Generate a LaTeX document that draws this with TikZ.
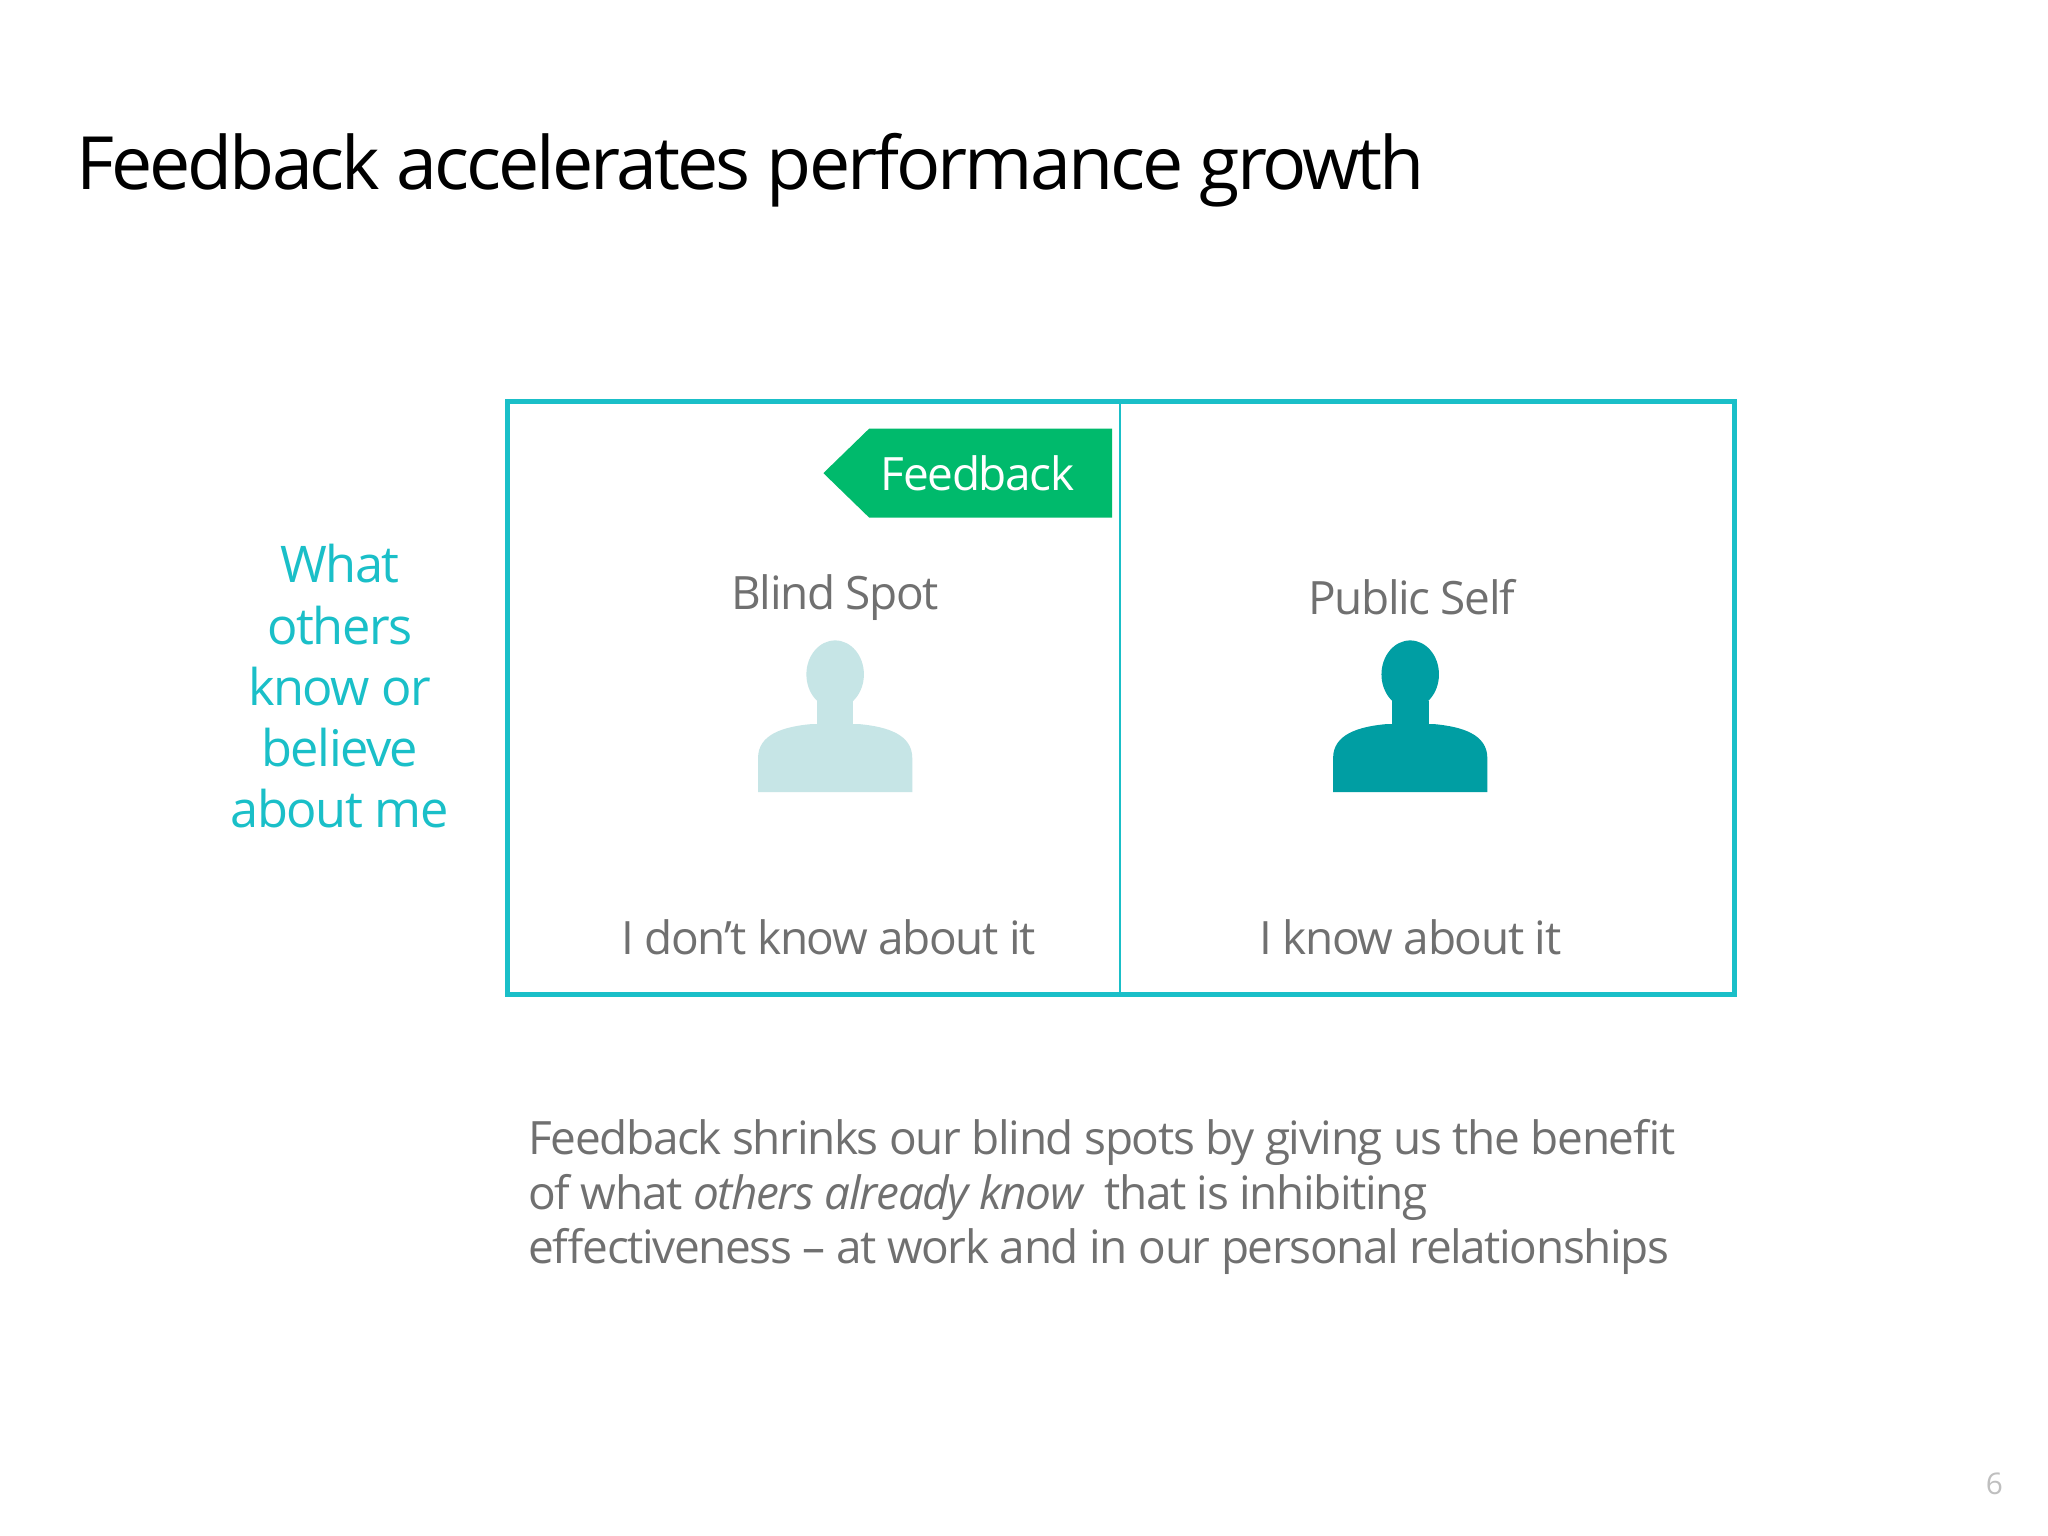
\documentclass[tikz,border=0pt]{standalone}
\usepackage{fontspec}
\setmainfont[LetterSpace=-3]{Open Sans}
\definecolor{cy}{HTML}{1ABFC8}
\definecolor{gr}{HTML}{00BA6C}
\definecolor{tx}{HTML}{707070}
\definecolor{lp}{HTML}{C6E5E6}
\definecolor{dp}{HTML}{009EA3}
\begin{document}
\begin{tikzpicture}[x=0.02cm,y=-0.02cm,
  lbl/.style={text=tx,font=\fontsize{20}{24}\selectfont,inner sep=0},
  person/.pic={
    \fill (0,-32) ellipse (22 and 26);
    \fill (-14,-12) rectangle (14,20);
    \fill (-59,58) -- (-59,32) .. controls (-59,14) and (-40,8) .. (-18,6) -- (18,6) .. controls (40,8) and (59,14) .. (59,32) -- (59,58) -- cycle;
  }]
\useasboundingbox (0,0) rectangle (1567,1175);
\fill[white] (0,0) rectangle (1567,1175);
\node[anchor=base west,inner sep=0,font=\fontsize{32}{38}\selectfont\addfontfeatures{LetterSpace=-4}] (title) at (58,145) {Feedback accelerates performance growth};
\draw[cy,line width=4*0.567pt] (388,307) rectangle (1327,761);
\draw[cy,line width=2*0.567pt] (857,307) coordinate (dt) -- (857,761) coordinate (db);
\fill[gr] (630,362) -- (665,328) -- (851,328) -- (851,396) -- (665,396) -- cycle;
\node[text=white,font=\fontsize{20}{24}\selectfont] (fb) at (748,362) {Feedback};
\node[lbl] (bs) at (639,457) {Blind Spot};
\node[lbl] (ps) at (1080,457) {Public Self};
\pic[lp] at (639,548) {person};
\pic[dp] at (1079,548) {person};
\node[lbl] (dk) at (634,717) {I don’t know about it};
\node[lbl] (ik) at (1079,717) {I know about it};
\node[text=cy,align=center,font=\fontsize{22}{26.6}\selectfont,inner sep=0] (left) at (260,525) {What\\others\\know or\\believe\\about me};
\node[anchor=north west,text=tx,align=left,inner sep=0,font=\fontsize{20}{23.8}\selectfont] (bottom) at (404,856) {Feedback shrinks our blind spots by giving us the benefit\\of what \textit{others already know}\ \ that is inhibiting\\effectiveness – at work and in our personal relationships};
\node[text=black!25,font=\fontsize{13}{15}\selectfont] (pg) at (1526,1135) {6};
\end{tikzpicture}
\end{document}
